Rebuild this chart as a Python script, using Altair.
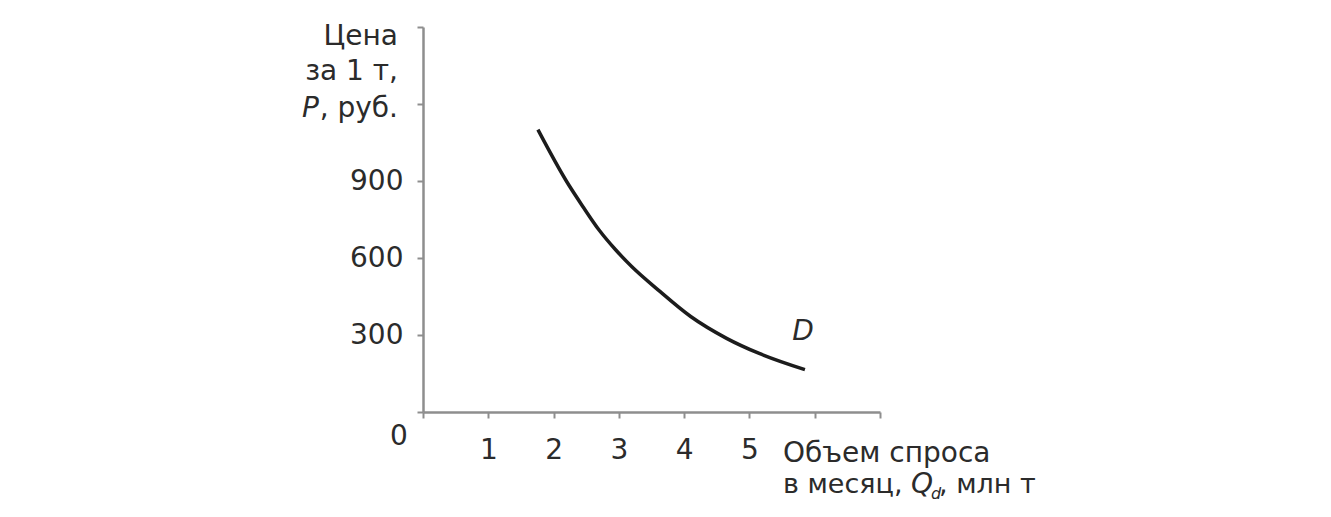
import altair as alt
import pandas as pd

# ---- data ----
quantity = [1.76, 2.2, 2.45, 2.7, 2.95, 3.2, 3.6, 4.1, 4.65, 5.15, 5.85]   # Qd, млн т
price = [1100, 898, 800, 708, 632, 566, 476, 372, 287, 228, 165]           # P, руб.
x_ticks = [0, 1, 2, 3, 4, 5, 6, 7]
x_labelled = [1, 2, 3, 4, 5]
y_ticks = [0, 300, 600, 900, 1200, 1500]
y_labelled = [300, 600, 900]
curve_label = "D"
origin_label = "0"
y_title_lines = ["Цена", "за 1 т,"]
y_title_symbol = "P"
y_title_unit = ", руб."
x_title_line1 = "Объем спроса"
x_title_line2 = "в месяц,"
x_title_symbol = "Q"
x_title_sub = "d"
x_title_unit = ",  млн т"

FONT = "DejaVu Sans"
FS = 28
TXT = "#2b2b2b"
AX = "#8e8e8e"

df = pd.DataFrame({"Q": quantity, "P": price})
last = df.tail(1).assign(t=curve_label)
origin = pd.DataFrame({"Q": [0], "P": [0], "t": [origin_label]})

x_expr = "indexof(" + str(x_labelled) + ", datum.value) >= 0 ? datum.label : ''"
y_expr = "indexof(" + str(y_labelled) + ", datum.value) >= 0 ? datum.label : ''"

xs = alt.Scale(domain=[0, 7], nice=False)
ys = alt.Scale(domain=[0, 1500], nice=False)

common_axis = dict(domainColor=AX, domainWidth=2.5, tickColor=AX, tickWidth=2,
                   tickSize=6, labelFont=FONT, labelFontSize=FS, labelColor=TXT,
                   grid=False, title=None, format="d", labelFlush=False)

line = alt.Chart(df).mark_line(color="#1c1c1c", strokeWidth=3.5,
                               interpolate="monotone", clip=False).encode(
    x=alt.X("Q:Q", scale=xs,
            axis=alt.Axis(values=x_ticks, labelExpr=x_expr, labelPadding=18,
                          **common_axis)),
    y=alt.Y("P:Q", scale=ys,
            axis=alt.Axis(values=y_ticks, labelExpr=y_expr, labelPadding=14,
                          **common_axis)),
)

d_text = alt.Chart(last).mark_text(font=FONT, fontSize=FS, fontStyle="italic",
                                   color=TXT, dx=-2, dy=-38).encode(
    x=alt.X("Q:Q", scale=xs), y=alt.Y("P:Q", scale=ys), text="t:N")

zero_text = alt.Chart(origin).mark_text(font=FONT, fontSize=FS, color=TXT,
                                        dx=-24, dy=25).encode(
    x=alt.X("Q:Q", scale=xs), y=alt.Y("P:Q", scale=ys), text="t:N")


def label(text, x, y, align="left", italic=False, size=FS, baseline="alphabetic"):
    kw = dict(font=FONT, fontSize=size, color=TXT, align=align, baseline=baseline)
    if italic:
        kw["fontStyle"] = "italic"
    return alt.Chart(pd.DataFrame({"t": [text]})).mark_text(**kw).encode(
        x=alt.value(x), y=alt.value(y), text="t:N")


labels = [
    label(y_title_lines[0], -25, 18, align="right"),
    label(y_title_lines[1], -25, 53, align="right"),
    label(y_title_unit, -25, 90, align="right"),
    label(y_title_symbol, -104, 90, align="right", italic=True),
    label(x_title_line1, 360, 435),
    label(x_title_line2, 360, 466, size=27),
    label(x_title_symbol, 488, 466, italic=True),
    label(x_title_sub, 508, 472, italic=True, size=16),
    label(x_title_unit, 516, 466, size=27),
]

chart = alt.layer(line, d_text, zero_text, *labels).properties(
    width=457, height=385,
    autosize=alt.AutoSizeParams(type="none"),
    padding={"left": 415, "top": 19, "right": 443, "bottom": 97},
    background="white",
).configure_view(stroke=None)

chart.save("out.html", embed_options={"renderer": "svg", "actions": False})
